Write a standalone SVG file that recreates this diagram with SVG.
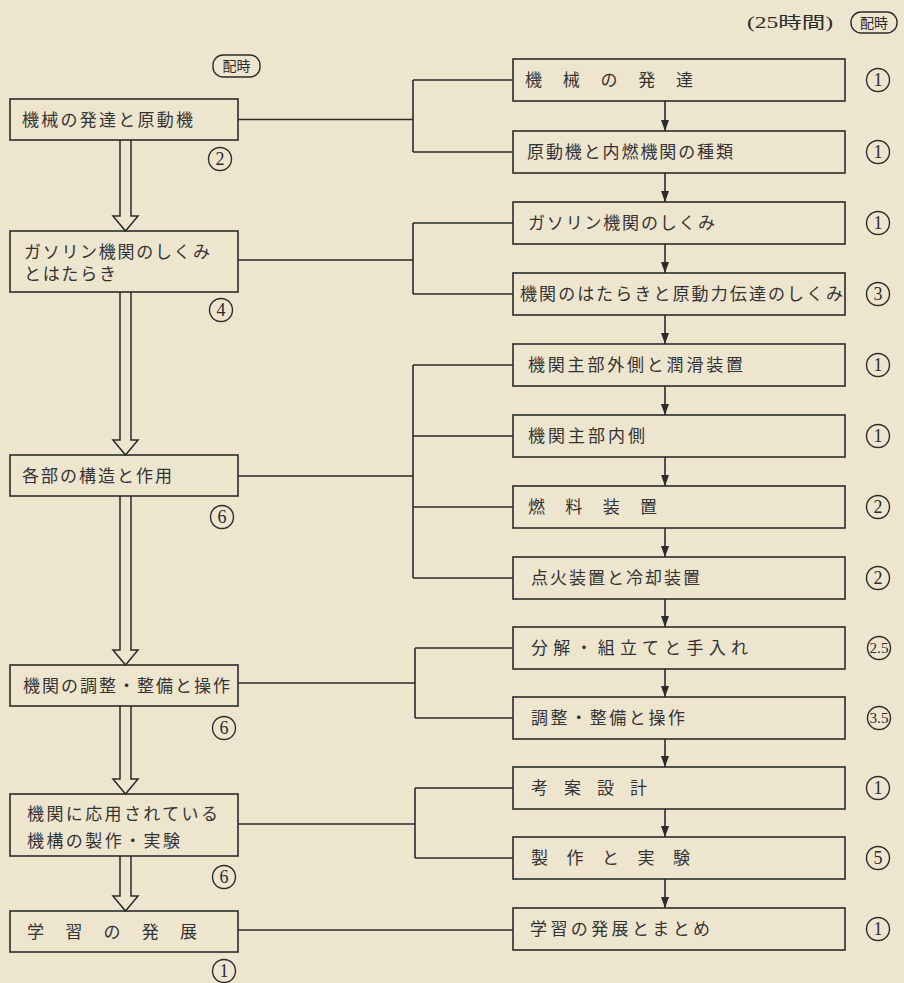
<svg xmlns="http://www.w3.org/2000/svg" width="904" height="983" viewBox="0 0 904 983">
<style>
.bg{fill:#eee5cf}
.box{fill:none;stroke:#2b2b2b;stroke-width:1.6}
.ln{fill:none;stroke:#2b2b2b;stroke-width:1.6}
.dbl{fill:#eee5cf;stroke:#2b2b2b;stroke-width:1.5}
.ah{fill:#2b2b2b}
.t{font-family:"Liberation Serif","Noto Sans CJK JP",serif;font-size:17px;fill:#333;}
.c{fill:none;stroke:#2b2b2b;stroke-width:1.4}
.n{font-family:"Liberation Serif","Noto Sans CJK JP",serif;font-size:18px;fill:#2b2b2b;text-anchor:middle}
.ns{font-family:"Liberation Serif","Noto Sans CJK JP",serif;font-size:15px;fill:#2b2b2b;text-anchor:middle}
.h{font-family:"Liberation Serif","Noto Sans CJK JP",serif;font-size:16px;fill:#2b2b2b}
.hs{font-family:"Liberation Serif","Noto Sans CJK JP",serif;font-size:14px;fill:#2b2b2b;text-anchor:middle}
</style>
<rect class="bg" x="0" y="0" width="904" height="983"/>

<g id="header">
<text class="h" x="747" y="28" textLength="86" lengthAdjust="spacingAndGlyphs">(25時間)</text>
<rect class="c" x="851" y="12" width="46" height="21" rx="10"/>
<text class="hs" x="874" y="28">配時</text>
<rect class="c" x="213" y="55" width="47" height="22" rx="10"/>
<text class="hs" x="236.5" y="71">配時</text>
</g>

<g id="connectors">
<path class="ln" d="M238,119.5 H413 M413,80 V152 M413,80 H513 M413,152 H513"/>
<path class="ln" d="M238,260 H413 M413,223 V294 M413,223 H513 M413,294 H513"/>
<path class="ln" d="M238,476 H413 M413,365 V578 M413,365 H513 M413,436 H513 M413,507 H513 M413,578 H513"/>
<path class="ln" d="M238,683 H415 M415,648 V718 M415,648 H513 M415,718 H513"/>
<path class="ln" d="M238,824 H415 M415,788 V858 M415,788 H513 M415,858 H513"/>
<path class="ln" d="M238,930 H513"/>
<path class="ln" d="M665,101 V131 M665,173 V202 M665,244 V273 M665,315 V344 M665,386 V415 M665,457 V486 M665,528 V557 M665,599 V627 M665,669 V697 M665,739 V767 M665,809 V837 M665,879 V908"/>
<path class="ah" d="M661,120 L669,120 L665,131 Z M661,191 L669,191 L665,202 Z M661,262 L669,262 L665,273 Z M661,333 L669,333 L665,344 Z M661,404 L669,404 L665,415 Z M661,475 L669,475 L665,486 Z M661,546 L669,546 L665,557 Z M661,616 L669,616 L665,627 Z M661,686 L669,686 L665,697 Z M661,756 L669,756 L665,767 Z M661,826 L669,826 L665,837 Z M661,897 L669,897 L665,908 Z"/>
<path class="dbl" d="M120,140 V216 H113 L125.5,231 L138,216 H131 V140"/>
<path class="dbl" d="M120,292 V440 H113 L125.5,455 L138,440 H131 V292"/>
<path class="dbl" d="M120,496 V650 H113 L125.5,665 L138,650 H131 V496"/>
<path class="dbl" d="M120,706 V779 H113 L125.5,794 L138,779 H131 V706"/>
<path class="dbl" d="M120,856 V896 H113 L125.5,911 L138,896 H131 V856"/>
</g>

<g id="l1"><rect class="box" x="10" y="99" width="228" height="41"/><text class="t" x="22" y="126" textLength="171">機械の発達と原動機</text><circle class="c" cx="220" cy="159" r="11.5"/><text class="n" x="220" y="165">2</text></g>
<g id="l2"><rect class="box" x="10" y="231" width="228" height="61"/><text class="t" x="24" y="258" textLength="186">ガソリン機関のしくみ</text><text class="t" x="24" y="280" textLength="92">とはたらき</text><circle class="c" cx="221" cy="310" r="11.5"/><text class="n" x="221" y="316">4</text></g>
<g id="l3"><rect class="box" x="10" y="455" width="228" height="41"/><text class="t" x="22" y="482" textLength="150">各部の構造と作用</text><circle class="c" cx="222" cy="517" r="11.5"/><text class="n" x="222" y="523">6</text></g>
<g id="l4"><rect class="box" x="10" y="665" width="228" height="41"/><text class="t" x="23" y="692" textLength="207">機関の調整・整備と操作</text><circle class="c" cx="224" cy="728" r="11.5"/><text class="n" x="224" y="734">6</text></g>
<g id="l5"><rect class="box" x="10" y="794" width="228" height="62"/><text class="t" x="27" y="820" textLength="191">機関に応用されている</text><text class="t" x="27" y="847" textLength="153">機構の製作・実験</text><circle class="c" cx="224" cy="877" r="11.5"/><text class="n" x="224" y="883">6</text></g>
<g id="l6"><rect class="box" x="10" y="911" width="228" height="41"/><text class="t" x="27" y="938" textLength="170">学 習 の 発 展</text><circle class="c" cx="224" cy="971" r="11.5"/><text class="n" x="224" y="977">1</text></g>

<g id="r1"><rect class="box" x="513" y="59" width="332" height="42"/><text class="t" x="525" y="86" textLength="168">機 械 の 発 達</text><circle class="c" cx="878" cy="80" r="11.5"/><text class="n" x="878" y="86">1</text></g>
<g id="r2"><rect class="box" x="513" y="131" width="332" height="42"/><text class="t" x="527" y="158" textLength="206">原動機と内燃機関の種類</text><circle class="c" cx="878" cy="152" r="11.5"/><text class="n" x="878" y="158">1</text></g>
<g id="r3"><rect class="box" x="513" y="202" width="332" height="42"/><text class="t" x="528" y="229" textLength="187">ガソリン機関のしくみ</text><circle class="c" cx="878" cy="223" r="11.5"/><text class="n" x="878" y="229">1</text></g>
<g id="r4"><rect class="box" x="513" y="273" width="332" height="42"/><text class="t" x="520" y="300" textLength="323">機関のはたらきと原動力伝達のしくみ</text><circle class="c" cx="878" cy="294" r="11.5"/><text class="n" x="878" y="300">3</text></g>
<g id="r5"><rect class="box" x="513" y="344" width="332" height="42"/><text class="t" x="528" y="371" textLength="215">機関主部外側と潤滑装置</text><circle class="c" cx="878" cy="365" r="11.5"/><text class="n" x="878" y="371">1</text></g>
<g id="r6"><rect class="box" x="513" y="415" width="332" height="42"/><text class="t" x="528" y="442" textLength="117">機関主部内側</text><circle class="c" cx="878" cy="436" r="11.5"/><text class="n" x="878" y="442">1</text></g>
<g id="r7"><rect class="box" x="513" y="486" width="332" height="42"/><text class="t" x="528" y="513" textLength="129">燃 料 装 置</text><circle class="c" cx="878" cy="507" r="11.5"/><text class="n" x="878" y="513">2</text></g>
<g id="r8"><rect class="box" x="513" y="557" width="332" height="42"/><text class="t" x="531" y="584" textLength="169">点火装置と冷却装置</text><circle class="c" cx="878" cy="578" r="11.5"/><text class="n" x="878" y="584">2</text></g>
<g id="r9"><rect class="box" x="513" y="627" width="332" height="42"/><text class="t" x="531" y="654" textLength="217">分解・組立てと手入れ</text><circle class="c" cx="879" cy="648" r="11.5"/><text class="ns" x="879" y="653" textLength="19" lengthAdjust="spacingAndGlyphs">2.5</text></g>
<g id="r10"><rect class="box" x="513" y="697" width="332" height="42"/><text class="t" x="531" y="724" textLength="154">調整・整備と操作</text><circle class="c" cx="879" cy="718" r="11.5"/><text class="ns" x="879" y="723" textLength="19" lengthAdjust="spacingAndGlyphs">3.5</text></g>
<g id="r11"><rect class="box" x="513" y="767" width="332" height="42"/><text class="t" x="531" y="794" textLength="116">考 案 設 計</text><circle class="c" cx="878" cy="788" r="11.5"/><text class="n" x="878" y="794">1</text></g>
<g id="r12"><rect class="box" x="513" y="837" width="332" height="42"/><text class="t" x="531" y="864" textLength="159">製 作 と 実 験</text><circle class="c" cx="878" cy="858" r="11.5"/><text class="n" x="878" y="864">5</text></g>
<g id="r13"><rect class="box" x="513" y="908" width="332" height="42"/><text class="t" x="530" y="935" textLength="180">学習の発展とまとめ</text><circle class="c" cx="878" cy="929" r="11.5"/><text class="n" x="878" y="935">1</text></g>
</svg>
